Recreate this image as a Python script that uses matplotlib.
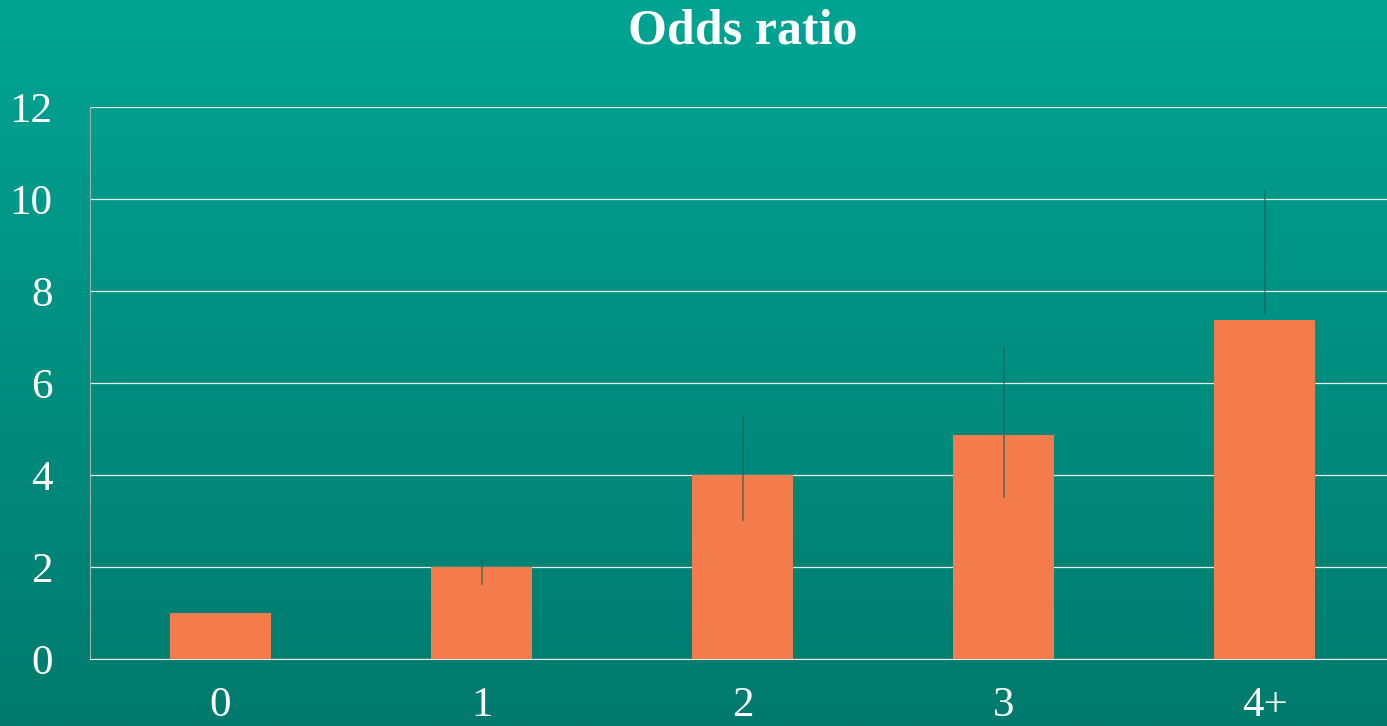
import matplotlib.pyplot as plt
import numpy as np
from matplotlib.colors import LinearSegmentedColormap

categories = ["0", "1", "2", "3", "4+"]
odds = [1.0, 2.0, 4.0, 4.87, 7.37]
ci_low = [1.0, 1.6, 3.0, 3.5, 7.5]
ci_high = [1.0, 2.15, 5.3, 6.8, 10.2]

fig = plt.figure(figsize=(13.87, 7.26), dpi=100)

# gradient background over the whole figure
bg = fig.add_axes([0, 0, 1, 1])
grad = np.linspace(0, 1, 256).reshape(-1, 1)
cmap = LinearSegmentedColormap.from_list("teal", ["#00a493", "#007a6d"])
bg.imshow(grad, aspect="auto", cmap=cmap, extent=[0, 1, 0, 1])
bg.set_axis_off()

ax = fig.add_axes([0.0649, 0.0923, 0.9409, 0.7603])
ax.set_facecolor("none")

x = np.arange(len(categories))
ax.bar(x, odds, width=0.39, color="#f47c4c", zorder=3)

# confidence intervals, no caps
for xi, lo, hi in zip(x, ci_low, ci_high):
    if hi > lo:
        ax.vlines(xi, lo, hi, color="#1b5e50", lw=1.3, alpha=0.6, zorder=4)

ax.set_xlim(-0.5, 4.5)
ax.set_ylim(0, 12)
ax.set_yticks(range(0, 13, 2))
ax.set_xticks(x)
ax.set_xticklabels(categories)

ax.grid(axis="y", color="#e8efe8", lw=0.9, zorder=1)
ax.set_axisbelow(True)
for s in ["top", "right"]:
    ax.spines[s].set_visible(False)
ax.spines["left"].set_color("#a0b0a8")
ax.spines["bottom"].set_color("#e0e8e0")

ax.tick_params(length=0, labelcolor="white", labelsize=31)
ax.tick_params(axis="y", pad=27)
ax.tick_params(axis="x", pad=20)
for lab in ax.get_xticklabels() + ax.get_yticklabels():
    lab.set_family("Liberation Serif")

ax.set_title("Odds ratio", fontsize=36, fontweight="bold", color="white",
             family="Liberation Serif", pad=46)

fig.savefig("out.png", dpi=100)
